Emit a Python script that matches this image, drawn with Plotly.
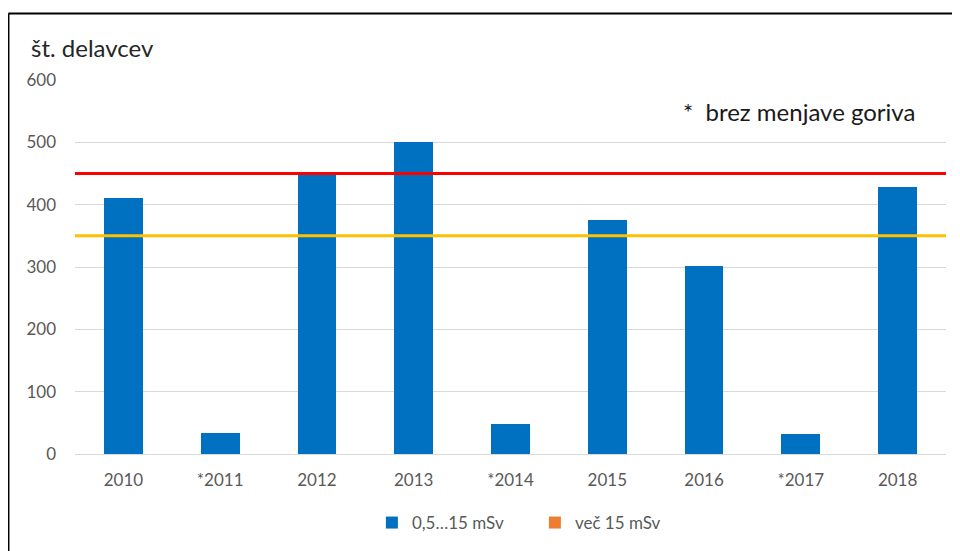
import plotly.graph_objects as go

categories = ["2010", "*2011", "2012", "2013", "*2014", "2015", "2016", "*2017", "2018"]
values_low = [411, 34, 449, 501, 48, 375, 302, 32, 429]
values_high = [0, 0, 0, 0, 0, 0, 0, 0, 0]
series_names = ["0,5…15 mSv", "več 15 mSv"]
limit_red = 450
limit_yellow = 350
y_ticks = [0, 100, 200, 300, 400, 500, 600]

FONT = "Lato, Open Sans, sans-serif"
GREY = "#595959"

fig = go.Figure()
fig.add_trace(go.Bar(x=categories, y=values_low, name=series_names[0],
                     marker=dict(color="#0070C0", line=dict(width=0))))
fig.add_trace(go.Bar(x=categories, y=values_high, name=series_names[1],
                     marker=dict(color="#ED7D31", line=dict(width=0))))

fig.add_hline(y=limit_red, line=dict(color="#FF0000", width=3))
fig.add_hline(y=limit_yellow, line=dict(color="#FFC000", width=3))

# outer frame (top and left edges only; right/bottom lie outside the view)
fig.add_shape(type="line", xref="paper", yref="paper",
              x0=-0.0764, x1=1.1, y0=1.178, y1=1.178,
              line=dict(color="black", width=2), layer="below")
fig.add_shape(type="line", xref="paper", yref="paper",
              x0=-0.0764, x1=-0.0764, y0=-0.5, y1=1.178,
              line=dict(color="black", width=2), layer="below")

fig.add_annotation(text="št. delavcev", xref="paper", yref="paper",
                   x=-0.053, y=1.088, xanchor="left", yanchor="middle",
                   showarrow=False, font=dict(family=FONT, size=24, color="#262626"))
fig.add_annotation(text="*  brez menjave goriva", xref="paper", yref="paper",
                   x=0.9667, y=0.917, xanchor="right", yanchor="middle",
                   showarrow=False, font=dict(family=FONT, size=24, color="#1a1a1a"))

fig.update_layout(
    width=960, height=551,
    margin=dict(l=67, r=22, t=72, b=105),
    paper_bgcolor="white", plot_bgcolor="white",
    barmode="stack", bargap=0.6,
    font=dict(family=FONT, size=17, color=GREY),
    showlegend=True,
    legend=dict(orientation="h", x=0.528, xanchor="center", y=-0.1845, yanchor="middle",
                font=dict(family=FONT, size=17, color=GREY), itemwidth=30,
                entrywidth=118, entrywidthmode="pixels",
                traceorder="normal"),
    xaxis=dict(type="category", showgrid=False, showline=False, ticks="",
               ticklabelstandoff=14, tickfont=dict(size=17, color=GREY)),
    yaxis=dict(range=[0, 600], tickvals=y_ticks, showgrid=True, gridcolor="#D9D9D9",
               gridwidth=1, zeroline=True, zerolinecolor="#D9D9D9", zerolinewidth=1,
               showline=False, ticks="", ticklabelstandoff=18,
               tickfont=dict(size=17, color=GREY)),
)

fig.write_html("out.html", config={"displayModeBar": False},
               post_script="document.body.style.overflow='hidden';"
                           "document.documentElement.style.overflow='hidden';")
